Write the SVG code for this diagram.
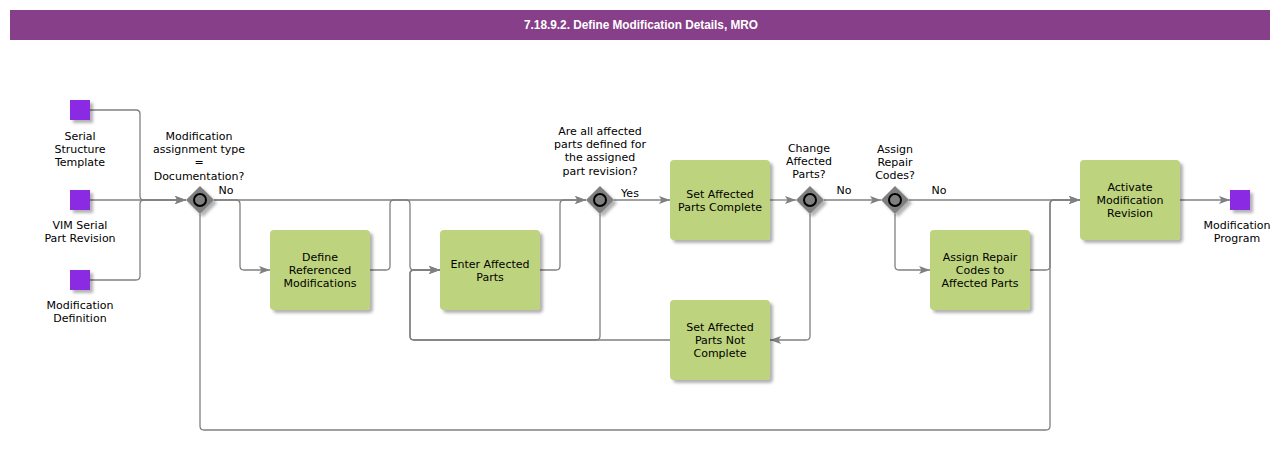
<svg xmlns="http://www.w3.org/2000/svg" width="1280" height="460" viewBox="0 0 1280 460">
<style>
.t{font-family:"DejaVu Sans",Verdana,sans-serif;font-size:11px;fill:#000;text-anchor:middle}
.task{fill:#bdd37d}
.ev{fill:#8a2be2}
.gw{fill:#7f7f7f}
.gc{fill:#7f7f7f;stroke:#000;stroke-width:2}
.c{fill:none;stroke:#808080;stroke-width:1.3}
.title{font-family:"Liberation Sans",Arial,sans-serif;font-size:12px;font-weight:bold;fill:#fff;text-anchor:middle}
</style>
<defs>
<filter id="sh" x="-20%" y="-20%" width="150%" height="150%">
<feDropShadow dx="3" dy="3" stdDeviation="1.5" flood-color="#000" flood-opacity="0.3"/>
</filter>
<marker id="a" markerWidth="12" markerHeight="10" refX="11" refY="5" orient="auto" markerUnits="userSpaceOnUse">
<path d="M0,1 L11,5 L0,9 L2.5,5 z" fill="#808080"/>
</marker>
</defs>
<rect x="10" y="10" width="1260" height="30" fill="#873f8a"/>
<text class="title" x="641" y="29" textLength="234" lengthAdjust="spacingAndGlyphs">7.18.9.2. Define Modification Details, MRO</text>

<g id="connectors">
<path class="c" d="M90,110 H136 Q140,110 140,114 V196 Q140,200 144,200 H186" marker-end="url(#a)"/>
<path class="c" d="M90,200 H186" marker-end="url(#a)"/>
<path class="c" d="M90,280 H136 Q140,280 140,276 V204 Q140,200 144,200 H186" marker-end="url(#a)"/>
<path class="c" d="M214,200 H236 Q240,200 240,204 V266 Q240,270 244,270 H270" marker-end="url(#a)"/>
<path class="c" d="M214,200 H586" marker-end="url(#a)"/>
<path class="c" d="M370,270 H386 Q390,270 390,266 V204 Q390,200 394,200 H406 Q410,200 410,204 V266 Q410,270 414,270 H440" marker-end="url(#a)"/>
<path class="c" d="M540,270 H556 Q560,270 560,266 V204 Q560,200 564,200 H586" marker-end="url(#a)"/>
<path class="c" d="M600,214 V336 Q600,340 596,340 H414 Q410,340 410,336 V274 Q410,270 414,270 H440" marker-end="url(#a)"/>
<path class="c" d="M670,340 H414 Q410,340 410,336 V274 Q410,270 414,270 H440" marker-end="url(#a)"/>
<path class="c" d="M614,200 H670" marker-end="url(#a)"/>
<path class="c" d="M770,200 H796" marker-end="url(#a)"/>
<path class="c" d="M824,200 H881" marker-end="url(#a)"/>
<path class="c" d="M810,214 V336 Q810,340 806,340 H770" marker-end="url(#a)"/>
<path class="c" d="M909,200 H1080" marker-end="url(#a)"/>
<path class="c" d="M895,214 V266 Q895,270 899,270 H930" marker-end="url(#a)"/>
<path class="c" d="M1030,270 H1046 Q1050,270 1050,266 V204 Q1050,200 1054,200 H1080" marker-end="url(#a)"/>
<path class="c" d="M200,214 V426 Q200,430 204,430 H1046 Q1050,430 1050,426 V204 Q1050,200 1054,200 H1080" marker-end="url(#a)"/>
<path class="c" d="M1180,200 H1230" marker-end="url(#a)"/>
<text class="t" x="226" y="194">No</text>
<text class="t" x="630" y="197">Yes</text>
<text class="t" x="844" y="194">No</text>
<text class="t" x="939" y="194">No</text>
</g>

<g id="ev-serial">
<rect class="ev" x="70" y="100" width="20" height="20" filter="url(#sh)"/>
<text class="t" x="80" y="140">Serial</text>
<text class="t" x="80" y="153">Structure</text>
<text class="t" x="80" y="166">Template</text>
</g>
<g id="ev-vim">
<rect class="ev" x="70" y="190" width="20" height="20" filter="url(#sh)"/>
<text class="t" x="80" y="229">VIM Serial</text>
<text class="t" x="80" y="242">Part Revision</text>
</g>
<g id="ev-moddef">
<rect class="ev" x="70" y="270" width="20" height="20" filter="url(#sh)"/>
<text class="t" x="80" y="309">Modification</text>
<text class="t" x="80" y="322">Definition</text>
</g>
<g id="ev-program">
<rect class="ev" x="1230" y="190" width="20" height="20" filter="url(#sh)"/>
<text class="t" x="1237" y="229">Modification</text>
<text class="t" x="1237" y="242">Program</text>
</g>

<g id="gw1">
<polygon class="gw" points="200,186 214,200 200,214 186,200" filter="url(#sh)"/>
<circle class="gc" cx="200" cy="200" r="6"/>
<text class="t" x="199" y="140">Modification</text>
<text class="t" x="199" y="153">assignment type</text>
<text class="t" x="199" y="166">=</text>
<text class="t" x="199" y="180">Documentation?</text>
</g>
<g id="gw2">
<polygon class="gw" points="600,186 614,200 600,214 586,200" filter="url(#sh)"/>
<circle class="gc" cx="600" cy="200" r="6"/>
<text class="t" x="600" y="135">Are all affected</text>
<text class="t" x="600" y="148">parts defined for</text>
<text class="t" x="600" y="161">the assigned</text>
<text class="t" x="600" y="175">part revision?</text>
</g>
<g id="gw3">
<polygon class="gw" points="810,186 824,200 810,214 796,200" filter="url(#sh)"/>
<circle class="gc" cx="810" cy="200" r="6"/>
<text class="t" x="809" y="152">Change</text>
<text class="t" x="809" y="165">Affected</text>
<text class="t" x="809" y="178">Parts?</text>
</g>
<g id="gw4">
<polygon class="gw" points="895,186 909,200 895,214 881,200" filter="url(#sh)"/>
<circle class="gc" cx="895" cy="200" r="6"/>
<text class="t" x="895" y="153">Assign</text>
<text class="t" x="895" y="166">Repair</text>
<text class="t" x="895" y="179">Codes?</text>
</g>

<g id="task-define">
<rect class="task" x="270" y="230" width="100" height="80" rx="4" filter="url(#sh)"/>
<text class="t" x="320" y="261">Define</text>
<text class="t" x="320" y="274">Referenced</text>
<text class="t" x="320" y="287">Modifications</text>
</g>
<g id="task-enter">
<rect class="task" x="440" y="230" width="100" height="80" rx="4" filter="url(#sh)"/>
<text class="t" x="490" y="268">Enter Affected</text>
<text class="t" x="490" y="281">Parts</text>
</g>
<g id="task-complete">
<rect class="task" x="670" y="160" width="100" height="80" rx="4" filter="url(#sh)"/>
<text class="t" x="720" y="198">Set Affected</text>
<text class="t" x="720" y="211">Parts Complete</text>
</g>
<g id="task-notcomplete">
<rect class="task" x="670" y="300" width="100" height="80" rx="4" filter="url(#sh)"/>
<text class="t" x="720" y="331">Set Affected</text>
<text class="t" x="720" y="344">Parts Not</text>
<text class="t" x="720" y="357">Complete</text>
</g>
<g id="task-assign">
<rect class="task" x="930" y="230" width="100" height="80" rx="4" filter="url(#sh)"/>
<text class="t" x="980" y="261">Assign Repair</text>
<text class="t" x="980" y="274">Codes to</text>
<text class="t" x="980" y="287">Affected Parts</text>
</g>
<g id="task-activate">
<rect class="task" x="1080" y="160" width="100" height="80" rx="4" filter="url(#sh)"/>
<text class="t" x="1130" y="191">Activate</text>
<text class="t" x="1130" y="204">Modification</text>
<text class="t" x="1130" y="217">Revision</text>
</g>
</svg>
